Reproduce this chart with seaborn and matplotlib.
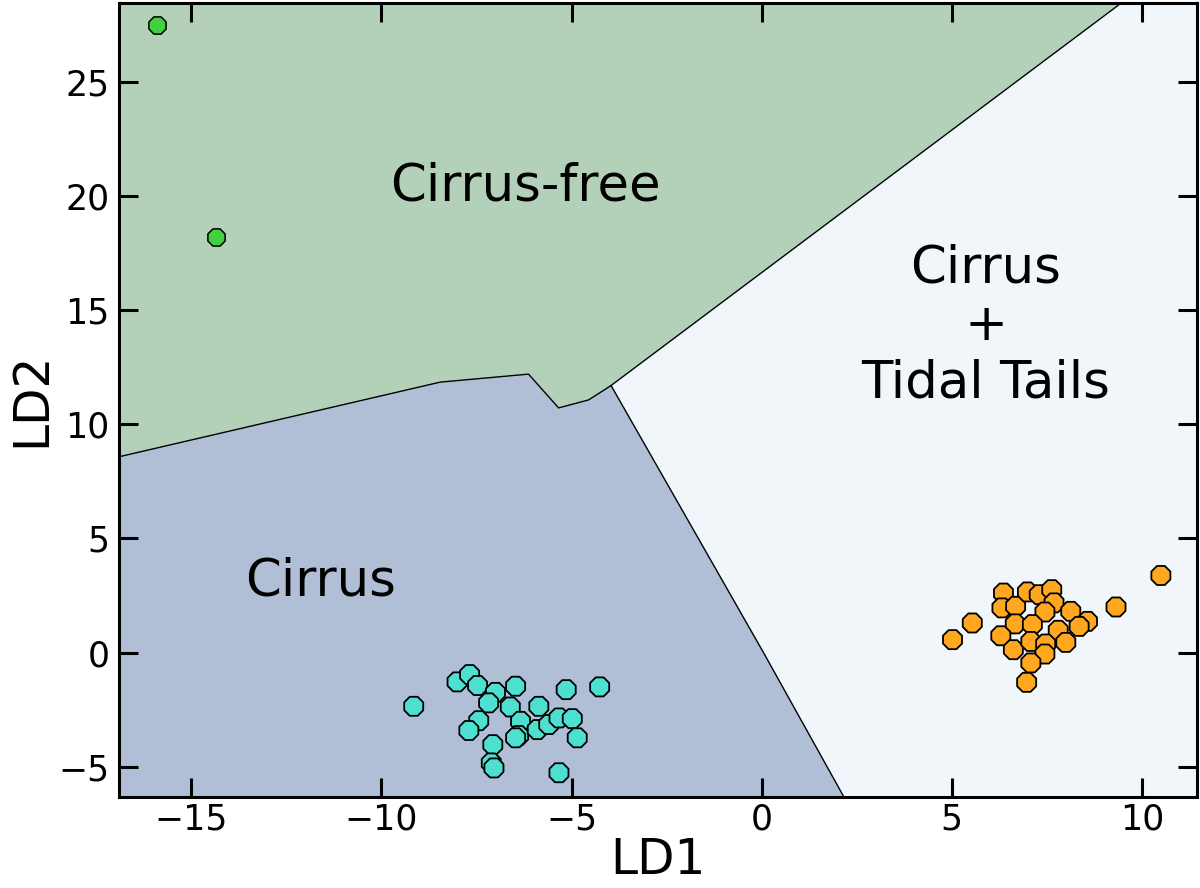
import matplotlib
matplotlib.use("Agg")
import matplotlib.pyplot as plt
import seaborn as sns
import numpy as np
import pandas as pd

# LDA projections
cirrus_ld1 = [-9.15, -8.01, -7.68, -7.47, -7.00, -7.18, -6.47, -6.61, -7.44, -7.70,
              -6.34, -6.39, -5.86, -5.90, -5.60, -5.33, -4.98, -5.14, -4.26, -4.85,
              -7.07, -7.11, -7.04, -5.33, -6.47]
cirrus_ld2 = [-2.35, -1.28, -0.96, -1.44, -1.74, -2.20, -1.47, -2.38, -2.98, -3.41,
              -3.01, -3.63, -2.35, -3.37, -3.15, -2.86, -2.89, -1.62, -1.50, -3.73,
              -4.03, -4.83, -5.05, -5.26, -3.73]

tidal_ld1 = [5.02, 5.54, 6.36, 6.32, 6.68, 6.99, 7.30, 7.63, 7.69, 7.45, 8.13, 8.57, 8.35,
             9.32, 10.50, 6.67, 7.12, 6.29, 7.80, 8.00, 6.62, 7.08, 7.47, 7.45, 7.08, 6.97]
tidal_ld2 = [0.57, 1.30, 2.61, 1.96, 2.03, 2.66, 2.54, 2.76, 2.18, 1.78, 1.81, 1.37, 1.15,
             2.00, 3.38, 1.26, 1.23, 0.74, 0.98, 0.45, 0.13, 0.49, 0.38, -0.06, -0.45, -1.30]

free_ld1 = [-15.89, -14.34]
free_ld2 = [27.48, 18.21]

# decision boundaries (region vertices)
xlim = (-16.9, 11.45)
ylim = (-6.31, 28.47)
border_x = [-16.9, -8.45, -6.13, -5.34, -4.55, -3.96]
border_y = [8.58, 11.85, 12.20, 10.72, 11.07, 11.70]
top_end = (9.47, 28.47)
low_x = [0.05, 2.16]
low_y = [0.0, -6.31]

region_colors = {"free": "#b3d1b9", "cirrus": "#b1bfd6", "tidal": "#f0f6f9"}
point_colors = {"Cirrus": "#4ddfcf", "Tidal": "#ffa81f", "Free": "#40d040"}

sns.set_style("ticks")
plt.rcParams["font.family"] = ["DejaVu Sans"]
plt.rcParams.update({"text.color": "black", "axes.labelcolor": "black",
                     "xtick.color": "black", "ytick.color": "black",
                     "axes.edgecolor": "black"})

fig = plt.figure(figsize=(12, 8.88), dpi=100)
ax = fig.add_axes([0.0992, 0.1028, 0.8983, 0.8942])
ax.set_facecolor(region_colors["tidal"])

# regions
gx = [xlim[0]] + border_x + [top_end[0]]
gy = [ylim[1]] + border_y + [top_end[1]]
ax.fill(gx, gy, color=region_colors["free"], lw=0, zorder=0)
bx = border_x + low_x + [xlim[0]]
by = border_y + low_y + [ylim[0]]
ax.fill(bx, by, color=region_colors["cirrus"], lw=0, zorder=0)
ax.plot(border_x, border_y, color="black", lw=1, zorder=1)
ax.plot([border_x[-1], top_end[0]], [border_y[-1], top_end[1]], color="black", lw=1, zorder=1)
ax.plot([border_x[-1]] + low_x, [border_y[-1]] + low_y, color="black", lw=1, zorder=1)

df = pd.concat([
    pd.DataFrame({"LD1": cirrus_ld1, "LD2": cirrus_ld2, "cls": "Cirrus"}),
    pd.DataFrame({"LD1": tidal_ld1, "LD2": tidal_ld2, "cls": "Tidal"}),
])
sns.scatterplot(data=df, x="LD1", y="LD2", hue="cls", palette=point_colors,
                marker="8", s=220, edgecolor="black", linewidth=1.3, legend=False,
                ax=ax, zorder=3)
sns.scatterplot(x=free_ld1, y=free_ld2, color=point_colors["Free"], marker="8", s=180,
                edgecolor="black", linewidth=1.1, legend=False, ax=ax, zorder=3)

ax.text(-6.2, 20.4, "Cirrus-free", fontsize=37, ha="center", va="center")
ax.text(5.9, 14.3, "Cirrus\n+\nTidal Tails", fontsize=37, ha="center", va="center",
        linespacing=1.2)
ax.text(-11.6, 3.1, "Cirrus", fontsize=37, ha="center", va="center")

ax.set_xlim(*xlim)
ax.set_ylim(*ylim)
ax.set_xticks([-15, -10, -5, 0, 5, 10])
ax.set_yticks([-5, 0, 5, 10, 15, 20, 25])
ax.tick_params(direction="in", length=14, width=2.2, labelsize=25, top=True, right=True)
ax.tick_params(axis="y", pad=7)
ax.tick_params(axis="x", pad=4)
for sp in ax.spines.values():
    sp.set_linewidth(2.2)
ax.set_xlabel("LD1", fontsize=35, labelpad=0)
ax.set_ylabel("LD2", fontsize=35, labelpad=2)

fig.savefig("out.png", dpi=100)
